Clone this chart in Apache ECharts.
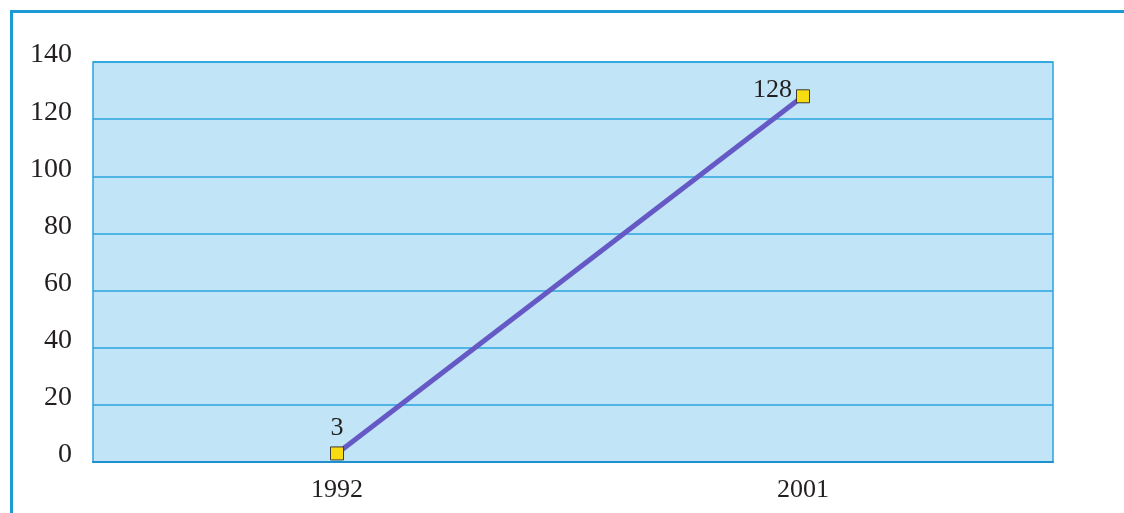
<!DOCTYPE html>
<html>
<head>
<meta charset="utf-8">
<script src="https://cdn.jsdelivr.net/npm/echarts@6/dist/echarts.min.js"></script>
<style>
  html, body { margin: 0; padding: 0; background: #ffffff; }
  #frame {
    position: absolute; left: 10px; top: 10px; width: 1114px; height: 503px;
    border-left: 3px solid #1b9ad6; border-top: 3px solid #1b9ad6;
    box-sizing: border-box;
  }
  #chart { position: absolute; left: 0; top: 0; width: 1124px; height: 513px; }
</style>
</head>
<body>
<div id="frame"></div>
<div id="chart"></div>
<script>
// Years and values plotted
const years = ['1992', '2001'];
const values = [3, 128];
// Value axis range and step
const yMin = 0;
const yMax = 140;
const yStep = 20;

const serif = '"Liberation Serif", "DejaVu Serif", serif';
const textColor = '#231f20';
const chart = echarts.init(document.getElementById('chart'));

chart.setOption({
  animation: false,
  grid: [
    // shaded plot panel with gridlines
    {
      left: 93, right: 71, top: 62, bottom: 51,
      show: true,
      backgroundColor: '#c2e4f7',
      borderColor: '#2aa4de',
      borderWidth: 1.5
    },
    // inner band where the years sit
    { left: 104, right: 88, top: 62, bottom: 51 }
  ],
  xAxis: [
    {
      gridIndex: 0,
      type: 'category',
      data: years,
      axisLine: { show: true, lineStyle: { color: '#1e8fcf', width: 2 } },
      axisTick: { show: false },
      axisLabel: { show: false },
      splitLine: { show: false }
    },
    {
      gridIndex: 1,
      type: 'category',
      data: years,
      boundaryGap: true,
      axisLine: { show: false },
      axisTick: { show: false },
      axisLabel: { color: textColor, fontFamily: serif, fontSize: 26, margin: 15 },
      splitLine: { show: false }
    }
  ],
  yAxis: [
    {
      gridIndex: 0,
      type: 'value',
      min: yMin, max: yMax, interval: yStep,
      axisLine: { show: false },
      axisTick: { show: false },
      axisLabel: {
        color: textColor, fontFamily: serif, fontSize: 28, margin: 21,
        verticalAlign: 'bottom', lineHeight: 14
      },
      splitLine: { lineStyle: { color: '#2aa4de', width: 1.5 } }
    },
    {
      gridIndex: 1,
      type: 'value',
      min: yMin, max: yMax, interval: yStep,
      show: false,
      splitLine: { show: false }
    }
  ],
  series: [{
    type: 'line',
    xAxisIndex: 1,
    yAxisIndex: 1,
    data: values.map((v, i) => ({
      value: v,
      label: i === 0
        ? { position: 'top', distance: 5 }
        : { position: 'left', distance: 4, offset: [0, -6] }
    })),
    symbol: 'rect',
    symbolSize: 13,
    itemStyle: { color: '#f8dc12', borderColor: '#3a3a3a', borderWidth: 1 },
    lineStyle: { color: '#6559c6', width: 5 },
    label: { show: true, color: textColor, fontFamily: serif, fontSize: 26 },
    z: 3
  }]
});
</script>
</body>
</html>
